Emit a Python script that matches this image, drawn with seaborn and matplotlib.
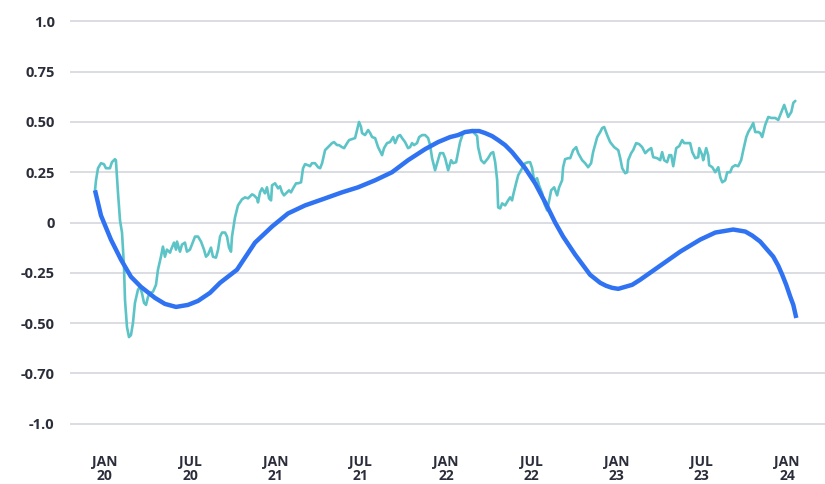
import matplotlib
matplotlib.use("Agg")
import matplotlib.pyplot as plt
import seaborn as sns
import pandas as pd

# months since Jan 2020
teal_months = [
    -0.70, -0.63, -0.49, -0.28, -0.07, 0.07, 0.35, 0.49, 0.70, 0.77,
    0.92, 1.06, 1.20, 1.34, 1.41, 1.55, 1.69, 1.83, 1.97, 2.11,
    2.32, 2.46, 2.60, 2.75, 2.89, 3.03, 3.17, 3.38, 3.59, 3.73,
    3.94, 4.08, 4.22, 4.36, 4.58, 4.65, 4.86, 5.00, 5.07, 5.28,
    5.42, 5.63, 5.77, 5.98, 6.12, 6.34, 6.55, 6.76, 6.97, 7.11,
    7.25, 7.46, 7.60, 7.81, 7.96, 8.10, 8.24, 8.45, 8.59, 8.73,
    8.87, 8.94, 9.15, 9.36, 9.64, 9.86, 10.07, 10.35, 10.49, 10.70,
    10.77, 10.91, 11.05, 11.26, 11.40, 11.55, 11.69, 11.76, 11.97, 12.18,
    12.32, 12.46, 12.60, 12.81, 12.95, 13.09, 13.24, 13.45, 13.59, 13.80,
    13.94, 14.08, 14.29, 14.43, 14.57, 14.78, 15.00, 15.14, 15.28, 15.49,
    15.70, 15.98, 16.12, 16.33, 16.47, 16.68, 16.83, 17.04, 17.18, 17.39,
    17.60, 17.74, 17.88, 18.02, 18.09, 18.30, 18.52, 18.66, 18.80, 19.01,
    19.22, 19.50, 19.64, 19.85, 20.06, 20.28, 20.42, 20.63, 20.77, 20.91,
    21.12, 21.33, 21.47, 21.61, 21.75, 21.96, 22.11, 22.32, 22.53, 22.74,
    22.88, 23.02, 23.23, 23.44, 23.58, 23.80, 23.94, 24.15, 24.36, 24.50,
    24.71, 24.85, 24.99, 25.20, 25.41, 25.63, 25.84, 25.98, 26.19, 26.26,
    26.47, 26.68, 26.96, 27.17, 27.32, 27.46, 27.60, 27.67, 27.81, 27.95,
    28.16, 28.37, 28.51, 28.65, 28.72, 28.93, 29.08, 29.36, 29.57, 29.78,
    29.92, 30.06, 30.20, 30.41, 30.55, 30.77, 30.91, 31.12, 31.26, 31.40,
    31.61, 31.82, 31.96, 32.17, 32.24, 32.38, 32.60, 32.74, 32.95, 33.16,
    33.30, 33.58, 33.79, 34.00, 34.21, 34.35, 34.64, 34.85, 34.99, 35.13,
    35.34, 35.55, 35.83, 36.12, 36.26, 36.40, 36.61, 36.75, 36.82, 37.03,
    37.17, 37.38, 37.59, 37.80, 38.02, 38.23, 38.44, 38.58, 38.86, 39.07,
    39.21, 39.35, 39.56, 39.71, 39.85, 39.99, 40.20, 40.41, 40.62, 40.76,
    40.97, 41.18, 41.33, 41.54, 41.75, 41.82, 42.03, 42.10, 42.31, 42.45,
    42.52, 42.74, 42.95, 43.16, 43.30, 43.44, 43.65, 43.79, 44.00, 44.14,
    44.35, 44.56, 44.77, 44.92, 45.13, 45.27, 45.48, 45.62, 45.76, 45.97,
    46.11, 46.25, 46.46, 46.68, 46.89, 47.17, 47.38, 47.66, 47.80, 48.08,
    48.30, 48.44, 48.58,
]
teal_values = [
    0.16, 0.21, 0.27, 0.295, 0.29, 0.27, 0.27, 0.30, 0.315, 0.31,
    0.145, 0.01, -0.05, -0.22, -0.385, -0.52, -0.57, -0.56, -0.50, -0.40,
    -0.335, -0.32, -0.35, -0.40, -0.41, -0.37, -0.35, -0.345, -0.31, -0.235,
    -0.17, -0.12, -0.17, -0.135, -0.15, -0.135, -0.10, -0.135, -0.095, -0.145,
    -0.11, -0.10, -0.145, -0.135, -0.11, -0.07, -0.07, -0.095, -0.135, -0.17,
    -0.16, -0.125, -0.17, -0.175, -0.135, -0.07, -0.05, -0.05, -0.07, -0.125,
    -0.145, -0.07, 0.025, 0.085, 0.115, 0.125, 0.12, 0.14, 0.135, 0.12,
    0.10, 0.15, 0.17, 0.145, 0.175, 0.12, 0.11, 0.185, 0.195, 0.17,
    0.18, 0.15, 0.135, 0.15, 0.16, 0.15, 0.17, 0.195, 0.195, 0.20,
    0.27, 0.29, 0.285, 0.28, 0.295, 0.295, 0.275, 0.27, 0.295, 0.36,
    0.375, 0.395, 0.40, 0.385, 0.385, 0.375, 0.37, 0.395, 0.41, 0.415,
    0.42, 0.46, 0.50, 0.475, 0.445, 0.435, 0.46, 0.445, 0.425, 0.42,
    0.375, 0.335, 0.37, 0.395, 0.40, 0.425, 0.395, 0.43, 0.435, 0.42,
    0.40, 0.37, 0.375, 0.395, 0.385, 0.395, 0.425, 0.435, 0.435, 0.42,
    0.385, 0.32, 0.26, 0.31, 0.345, 0.345, 0.32, 0.26, 0.31, 0.295,
    0.30, 0.35, 0.40, 0.445, 0.45, 0.45, 0.46, 0.445, 0.43, 0.375,
    0.31, 0.295, 0.32, 0.345, 0.35, 0.30, 0.21, 0.075, 0.07, 0.095,
    0.085, 0.11, 0.125, 0.11, 0.135, 0.195, 0.235, 0.27, 0.295, 0.30,
    0.30, 0.27, 0.21, 0.22, 0.185, 0.145, 0.095, 0.06, 0.11, 0.16,
    0.175, 0.135, 0.175, 0.21, 0.275, 0.315, 0.32, 0.32, 0.36, 0.375,
    0.345, 0.31, 0.295, 0.275, 0.295, 0.35, 0.425, 0.45, 0.47, 0.475,
    0.435, 0.40, 0.375, 0.36, 0.32, 0.27, 0.245, 0.25, 0.31, 0.345,
    0.36, 0.395, 0.39, 0.375, 0.345, 0.36, 0.37, 0.325, 0.32, 0.31,
    0.35, 0.31, 0.30, 0.335, 0.335, 0.28, 0.37, 0.38, 0.41, 0.395,
    0.395, 0.395, 0.35, 0.32, 0.325, 0.37, 0.335, 0.31, 0.37, 0.335,
    0.285, 0.275, 0.25, 0.275, 0.225, 0.20, 0.21, 0.25, 0.25, 0.275,
    0.285, 0.28, 0.31, 0.36, 0.425, 0.45, 0.475, 0.495, 0.45, 0.45,
    0.445, 0.425, 0.485, 0.525, 0.52, 0.52, 0.51, 0.56, 0.585, 0.525,
    0.55, 0.595, 0.605,
]

blue_months = [
    -0.70, -0.28, 0.42, 1.13, 1.83, 2.53, 3.52, 4.22, 5.00, 5.84,
    6.55, 7.39, 8.10, 9.29, 10.56, 11.76, 12.88, 14.08, 15.49, 16.68,
    17.81, 19.01, 20.20, 21.33, 22.53, 23.44, 24.29, 24.85, 25.34, 25.84,
    26.33, 26.75, 27.24, 27.67, 28.16, 28.65, 29.57, 30.27, 30.98, 31.68,
    32.24, 33.09, 34.14, 34.85, 35.27, 35.69, 36.12, 36.61, 37.10, 37.66,
    39.07, 40.48, 41.89, 42.95, 44.21, 45.06, 45.55, 46.11, 46.60, 47.03,
    47.38, 47.66, 47.94, 48.23, 48.44, 48.65,
]
blue_values = [
    0.16, 0.035, -0.085, -0.185, -0.27, -0.32, -0.375, -0.405, -0.42, -0.41,
    -0.39, -0.35, -0.30, -0.235, -0.10, -0.02, 0.045, 0.085, 0.12, 0.15,
    0.175, 0.21, 0.25, 0.31, 0.365, 0.40, 0.425, 0.435, 0.45, 0.455,
    0.455, 0.445, 0.43, 0.41, 0.385, 0.35, 0.27, 0.195, 0.10, 0.00,
    -0.07, -0.16, -0.26, -0.30, -0.315, -0.325, -0.33, -0.32, -0.31, -0.285,
    -0.215, -0.145, -0.085, -0.05, -0.035, -0.045, -0.065, -0.095, -0.135, -0.17,
    -0.215, -0.26, -0.31, -0.37, -0.41, -0.475,
]

x_tick_pos = [0, 6, 12, 18, 24, 30, 36, 42, 48]
x_tick_labels = ["JAN\n20", "JUL\n20", "JAN\n21", "JUL\n21", "JAN\n22",
                 "JUL\n22", "JAN\n23", "JUL\n23", "JAN\n24"]
y_tick_pos = [1.0, 0.75, 0.5, 0.25, 0, -0.25, -0.5, -0.75, -1.0]
y_tick_labels = ["1.0", "0.75", "0.50", "0.25", "0", "-0.25", "-0.50", "-0.70", "-1.0"]

TEAL = "#5cc4c6"
BLUE = "#2f72f2"
TEXT = "#2b2e3a"

sns.set_theme(style="white")
plt.rcParams["font.family"] = ["Open Sans", "DejaVu Sans"]

teal_df = pd.DataFrame({"month": teal_months, "value": teal_values})
blue_df = pd.DataFrame({"month": blue_months, "value": blue_values})

fig = plt.figure(figsize=(8.25, 4.84), dpi=100)
ax = fig.add_axes([70 / 825, 1 - 440 / 484, 755 / 825, 435 / 484])

sns.lineplot(data=teal_df, x="month", y="value", ax=ax, color=TEAL,
             linewidth=1.9, sort=False, estimator=None, zorder=3)
sns.lineplot(data=blue_df, x="month", y="value", ax=ax, color=BLUE,
             linewidth=3.2, sort=False, estimator=None, zorder=4,
             solid_capstyle="butt", solid_joinstyle="round")

ax.set_xlim(-2.46, 50.67)
ax.set_ylim(-1.082, 1.082)

ax.set_yticks(y_tick_pos)
ax.set_yticklabels(y_tick_labels)
ax.set_xticks(x_tick_pos)
ax.set_xticklabels(x_tick_labels, linespacing=0.95)

for y in y_tick_pos:
    ax.axhline(y, color="#dcdde3", linewidth=1.4, zorder=1)

ax.tick_params(axis="y", length=0, pad=11, labelsize=10.5, labelcolor=TEXT)
ax.tick_params(axis="x", length=0, pad=11, labelsize=10, labelcolor=TEXT)
for lbl in ax.get_xticklabels() + ax.get_yticklabels():
    lbl.set_fontweight("bold")

ax.set_xlabel("")
ax.set_ylabel("")
for s in ax.spines.values():
    s.set_visible(False)

fig.savefig("out.png", dpi=100, facecolor="white")
